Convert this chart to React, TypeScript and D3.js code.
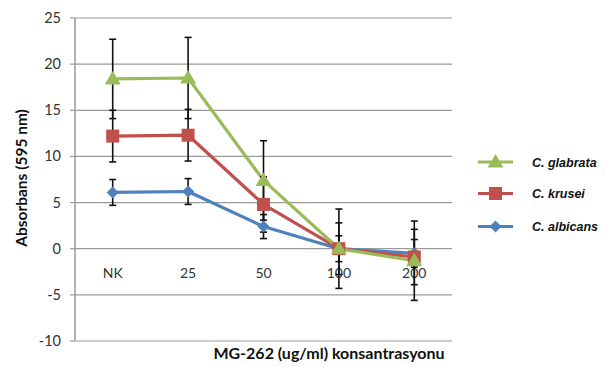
import React from "react";
import * as d3 from "d3";

const categories = ["NK", "25", "50", "100", "200"];
const yTicks = [-10, -5, 0, 5, 10, 15, 20, 25];

const glabrata = [18.4, 18.5, 7.4, 0.0, -1.3];
const glabrataErr = [4.3, 4.4, 4.3, 4.3, 4.3];
const krusei = [12.2, 12.3, 4.8, 0.0, -0.9];
const kruseiErr = [2.8, 2.8, 3.0, 2.8, 3.0];
const albicans = [6.1, 6.2, 2.4, 0.0, -0.5];
const albicansErr = [1.4, 1.4, 1.3, 1.4, 1.5];

const seriesNames = ["C. glabrata", "C. krusei", "C. albicans"];
const colors = ["#9BBB59", "#C0504D", "#4F81BD"];

const W = 605, H = 367;
const L = 75, R = 452, T = 18, B = 341;
const FONT = "Lato, 'Open Sans', sans-serif";

function Marker({ kind, x, y, color }: { kind: string; x: number; y: number; color: string }) {
  if (kind === "tri") {
    const s = 8;
    return <path d={`M${x},${y - s} L${x + s},${y + s * 0.7} L${x - s},${y + s * 0.7} Z`} fill={color} />;
  }
  if (kind === "sq") {
    const s = 6.5;
    return <rect x={x - s} y={y - s} width={2 * s} height={2 * s} fill={color} />;
  }
  const s = 6;
  return <path d={`M${x},${y - s} L${x + s},${y} L${x},${y + s} L${x - s},${y} Z`} fill={color} />;
}

export default function App() {
  const x = d3.scaleBand<string>().domain(categories).range([L, R]);
  const cx = (c: string) => (x(c) as number) + x.bandwidth() / 2;
  const y = d3.scaleLinear().domain([-10, 25]).range([B, T]);

  const series = [
    { name: seriesNames[2], vals: albicans, err: albicansErr, color: colors[2], kind: "dia" },
    { name: seriesNames[1], vals: krusei, err: kruseiErr, color: colors[1], kind: "sq" },
    { name: seriesNames[0], vals: glabrata, err: glabrataErr, color: colors[0], kind: "tri" },
  ];
  const line = d3
    .line<number>()
    .x((_, i) => cx(categories[i]))
    .y((v) => y(v));

  const legend = [
    { name: seriesNames[0], color: colors[0], kind: "tri" },
    { name: seriesNames[1], color: colors[1], kind: "sq" },
    { name: seriesNames[2], color: colors[2], kind: "dia" },
  ];
  const legendY = [162, 193.5, 226.5];

  return (
    <svg width={W} height={H} style={{ position: "absolute", left: 0, top: 0, background: "#fff" }}>
      {yTicks.map((t) => (
        <g key={t}>
          <line x1={L} x2={R} y1={y(t)} y2={y(t)} stroke="#9a9a9a" strokeWidth={1.2} />
          <line x1={L - 5} x2={L} y1={y(t)} y2={y(t)} stroke="#9a9a9a" strokeWidth={1.2} />
          <text x={61} y={y(t) + 5} textAnchor="end" fontFamily={FONT} fontSize={14.5} fill="#333">
            {t}
          </text>
        </g>
      ))}
      <line x1={L} x2={L} y1={T} y2={B} stroke="#9a9a9a" strokeWidth={1.5} />
      {categories.map((c) => (
        <text key={c} x={cx(c)} y={278} textAnchor="middle" fontFamily={FONT} fontSize={14} fill="#333">
          {c}
        </text>
      ))}
      {series.map((s) => (
        <path key={s.name} d={line(s.vals) || ""} fill="none" stroke={s.color} strokeWidth={3.2} strokeLinejoin="round" />
      ))}
      {series.map((s) =>
        s.vals.map((v, i) => {
          const xc = cx(categories[i]);
          const y1 = y(v + s.err[i]);
          const y2 = y(v - s.err[i]);
          return (
            <g key={s.name + i} stroke="#111" strokeWidth={1.6}>
              <line x1={xc} x2={xc} y1={y1} y2={y2} />
              <line x1={xc - 3.5} x2={xc + 3.5} y1={y1} y2={y1} />
              <line x1={xc - 3.5} x2={xc + 3.5} y1={y2} y2={y2} />
            </g>
          );
        })
      )}
      {series.map((s) =>
        s.vals.map((v, i) => <Marker key={s.name + "m" + i} kind={s.kind} x={cx(categories[i])} y={y(v)} color={s.color} />)
      )}
      <text
        transform={`translate(27,178) rotate(-90)`}
        textAnchor="middle"
        fontFamily={FONT}
        fontWeight="bold"
        fontSize={15.5}
        fill="#111"
      >
        Absorbans (595 nm)
      </text>
      <text x={329} y={359} textAnchor="middle" fontFamily={FONT} fontWeight="bold" fontSize={16} fill="#111">
        MG-262 (ug/ml) konsantrasyonu
      </text>
      {legend.map((l, i) => {
        const ly = legendY[i];
        return (
          <g key={l.name}>
            <line x1={478} x2={513} y1={ly} y2={ly} stroke={l.color} strokeWidth={3.2} />
            <Marker kind={l.kind} x={495.5} y={ly} color={l.color} />
            <text x={532} y={ly + 4.5} fontFamily="'Liberation Sans', Arial, sans-serif" fontStyle="italic" fontWeight="bold" fontSize={12.5} fill="#111">
              {l.name}
            </text>
          </g>
        );
      })}
    </svg>
  );
}
